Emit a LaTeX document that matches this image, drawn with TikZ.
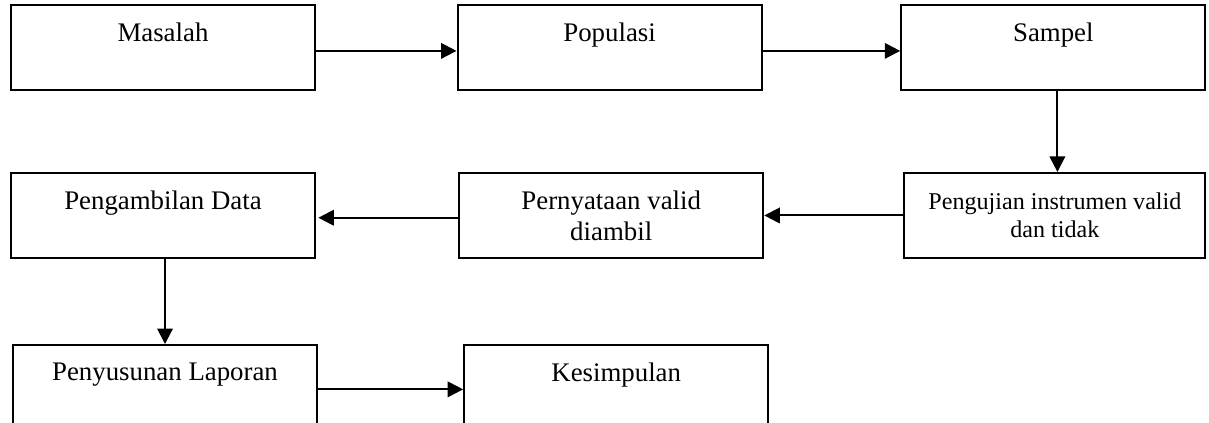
\documentclass[tikz,border=0pt]{standalone}
\usepackage{fontspec}
\setmainfont{Liberation Serif}
\usepackage{tikz}
\usetikzlibrary{arrows.meta, positioning}
\tikzstyle{stage} = [rectangle, draw=black, line width=0.9pt, minimum width=133.8pt, minimum height=37.4pt, align=center, inner sep=0pt, font=\fontsize{11.8}{13.6}\selectfont]
\tikzstyle{arrow} = [line width=0.9pt, -{Triangle[length=6.8pt,width=6.8pt]}]
\begin{document}
\begin{tikzpicture}
            \useasboundingbox (-71.7pt,20.9pt) rectangle (460.2pt,-165.2pt);

            \node[stage] (masalah) at (0,0) {Masalah\\\mbox{}};
            \node[stage, right=61.8pt of masalah] (populasi) {Populasi\\\mbox{}};
            \node[stage, right=60.5pt of populasi] (sampel) {Sampel\\\mbox{}};

            \node[stage, minimum width=132.4pt, anchor=north east, font=\fontsize{10.6}{12.3}\selectfont] (uji) at ([yshift=-35.6pt]sampel.south east) {Pengujian instrumen valid\\dan tidak};
            \node[stage, left=61.2pt of uji] (valid) {Pernyataan valid\\diambil};
            \node[stage, left=62.5pt of valid] (ambil) {Pengambilan Data\\\mbox{}};

            \node[stage, below=37.4pt of ambil, xshift=0.9pt] (laporan) {Penyusunan Laporan\\\mbox{}};
            \node[stage, right=63.8pt of laporan] (simpulan) {Kesimpulan\\\mbox{}};

            \draw[arrow] ([yshift=-1.5pt]masalah.east) -- ([yshift=-1.5pt]populasi.west);
            \draw[arrow] ([yshift=-1.5pt]populasi.east) -- ([yshift=-1.5pt]sampel.west);
            \draw[arrow] ([xshift=1.8pt]sampel.south) -- ([xshift=1.8pt]sampel.south |- uji.north);
            \draw[arrow] (uji.west) -- (valid.east);
            \draw[arrow] ([yshift=-1pt]valid.west) -- ([yshift=-1pt,xshift=1pt]ambil.east);
            \draw[arrow] ([xshift=0.9pt]ambil.south) -- ([xshift=0.9pt]ambil.south |- laporan.north);
            \draw[arrow] ([yshift=-0.8pt]laporan.east) -- ([yshift=-0.8pt]simpulan.west);

        \end{tikzpicture}
\end{document}
